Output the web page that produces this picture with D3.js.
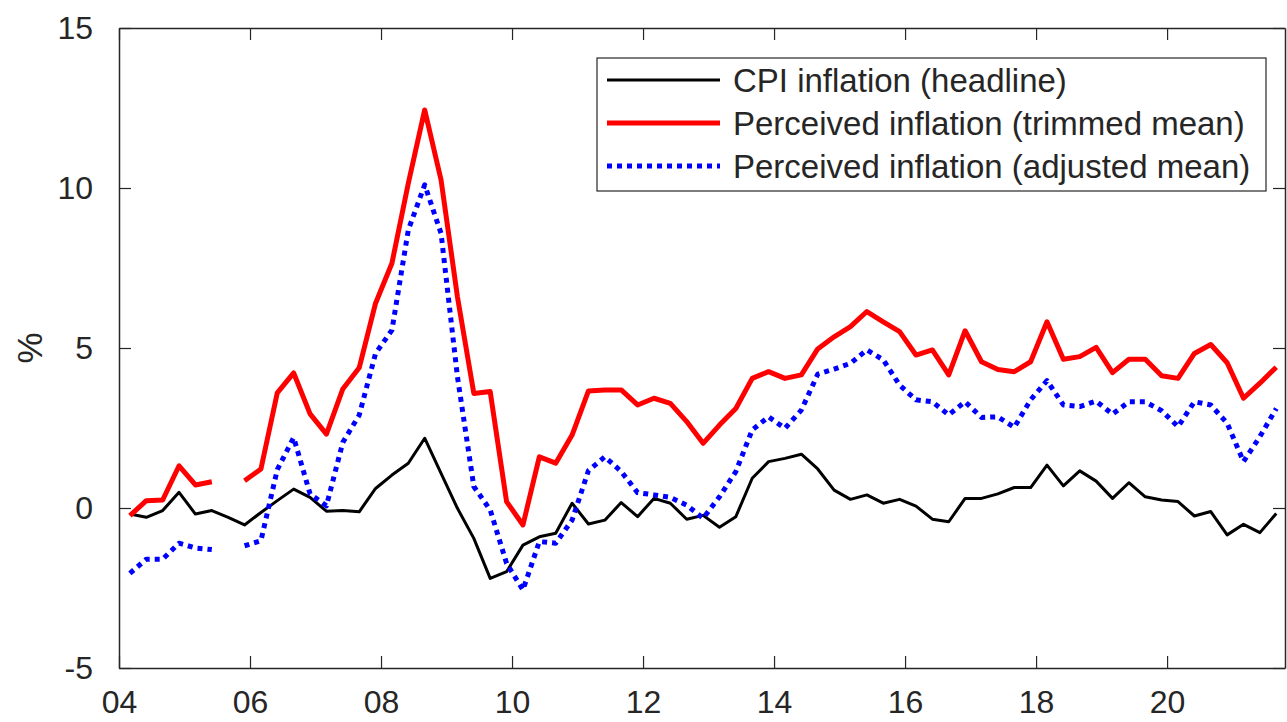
<!DOCTYPE html>
<html>
<head>
<meta charset="utf-8">
<script src="https://cdn.jsdelivr.net/npm/d3@7"></script>
<style>
  body { margin: 0; background: #fff; }
  svg { display: block; font-family: "Liberation Sans", Arial, sans-serif; }
</style>
</head>
<body>
<div id="chart"></div>
<script>
// quarterly observations, Mar 2004 .. Sep 2021
const startYear = 2004 + 2 / 12;
const nObs = 71;

const cpi = [-0.19, -0.29, -0.08, 0.49, -0.19, -0.08, -0.29, -0.53, -0.14, 0.23,
    0.59, 0.33, -0.10, -0.08, -0.12, 0.61, 1.03, 1.40, 2.18, 1.08,
    -0.01, -0.95, -2.20, -1.99, -1.16, -0.90, -0.79, 0.15, -0.50, -0.38,
    0.17, -0.27, 0.30, 0.15, -0.35, -0.23, -0.60, -0.27, 0.93, 1.45,
    1.55, 1.68, 1.22, 0.56, 0.27, 0.41, 0.15, 0.27, 0.06, -0.35,
    -0.43, 0.30, 0.30, 0.44, 0.64, 0.64, 1.34, 0.69, 1.16, 0.84,
    0.30, 0.79, 0.35, 0.25, 0.20, -0.25, -0.11, -0.84, -0.51, -0.77, -0.17];

const trimmed = [-0.24, 0.23, 0.25, 1.32, 0.72, 0.82, null, 0.85, 1.22, 3.60,
    4.22, 2.94, 2.31, 3.72, 4.38, 6.40, 7.65, 10.15, 12.44, 10.25,
    6.60, 3.58, 3.64, 0.20, -0.53, 1.60, 1.40, 2.28, 3.66, 3.69,
    3.69, 3.22, 3.43, 3.27, 2.70, 2.02, 2.59, 3.11, 4.05, 4.26,
    4.05, 4.16, 4.97, 5.35, 5.67, 6.14, 5.82, 5.51, 4.78, 4.94,
    4.16, 5.54, 4.57, 4.33, 4.26, 4.57, 5.82, 4.65, 4.73, 5.02,
    4.23, 4.65, 4.65, 4.13, 4.05, 4.83, 5.11, 4.54, 3.43, 3.90, 4.40];

const adjusted = [-2.04, -1.60, -1.60, -1.10, -1.25, -1.30, null, -1.18, -1.02, 1.20,
    2.20, 0.44, 0.07, 2.05, 2.90, 4.83, 5.56, 8.69, 10.10, 8.58,
    4.10, 0.67, -0.06, -1.73, -2.56, -1.05, -1.10, -0.38, 1.17, 1.60,
    1.14, 0.48, 0.41, 0.33, 0.09, -0.32, 0.35, 1.14, 2.44, 2.85,
    2.49, 3.06, 4.18, 4.34, 4.52, 4.94, 4.63, 3.84, 3.38, 3.32,
    2.91, 3.32, 2.83, 2.85, 2.52, 3.38, 3.98, 3.22, 3.17, 3.34,
    2.93, 3.32, 3.32, 3.04, 2.54, 3.32, 3.22, 2.65, 1.45, 2.23, 3.11];

const xTicks = [2004, 2006, 2008, 2010, 2012, 2014, 2016, 2018, 2020];
const yTicks = [-5, 0, 5, 10, 15];

const seriesNames = ['CPI inflation (headline)', 'Perceived inflation (trimmed mean)', 'Perceived inflation (adjusted mean)'];

const dates = d3.range(nObs).map(i => startYear + i * 0.25);

const width = 1287, height = 722;
const margin = {left: 119, right: 2, top: 28, bottom: 54};
const axisColor = '#262626';

const svg = d3.select('#chart').append('svg')
    .attr('width', width)
    .attr('height', height);

const x = d3.scaleLinear()
    .domain([2004, 2021.8])
    .range([margin.left, width - margin.right]);

const y = d3.scaleLinear()
    .domain([-5, 15])
    .range([height - margin.bottom, margin.top]);

const line = d3.line()
    .defined(d => d[1] != null)
    .x(d => x(d[0]))
    .y(d => y(d[1]));

const styles = [
    {data: cpi, color: '#000000', w: 3, dash: null},
    {data: trimmed, color: '#ff0000', w: 5, dash: null},
    {data: adjusted, color: '#0000ff', w: 5, dash: '5,5'}
];

styles.forEach(s => {
    svg.append('path')
        .datum(dates.map((d, i) => [d, s.data[i]]))
        .attr('d', line)
        .attr('fill', 'none')
        .attr('stroke', s.color)
        .attr('stroke-width', s.w)
        .attr('stroke-linejoin', 'round')
        .attr('stroke-dasharray', s.dash);
});

// axes box with inward ticks on all sides
const tickLen = 12;
const x0 = x.range()[0], x1 = x.range()[1];
const y0 = y.range()[0], y1 = y.range()[1];

const bottomAxis = svg.append('g')
    .attr('transform', `translate(0, ${y0})`)
    .call(d3.axisBottom(x).tickValues(xTicks).tickSizeInner(-tickLen).tickSizeOuter(0)
        .tickPadding(22).tickFormat(d => d3.format('02d')(d % 100)));
const topAxis = svg.append('g')
    .attr('transform', `translate(0, ${y1})`)
    .call(d3.axisTop(x).tickValues(xTicks).tickSizeInner(-tickLen).tickSizeOuter(0).tickFormat(''));
const leftAxis = svg.append('g')
    .attr('transform', `translate(${x0}, 0)`)
    .call(d3.axisLeft(y).tickValues(yTicks).tickSizeInner(-tickLen).tickSizeOuter(0)
        .tickPadding(26).tickFormat(d => String(d)));
const rightAxis = svg.append('g')
    .attr('transform', `translate(${x1}, 0)`)
    .call(d3.axisRight(y).tickValues(yTicks).tickSizeInner(-tickLen).tickSizeOuter(0).tickFormat(''));

[bottomAxis, topAxis, leftAxis, rightAxis].forEach(g => {
    g.select('.domain').attr('stroke', axisColor).attr('stroke-width', 1.5);
    g.selectAll('.tick line').attr('stroke', axisColor).attr('stroke-width', 1.2);
    g.selectAll('.tick text')
        .attr('fill', axisColor)
        .style('font-size', '32px')
        .style('font-family', '"Liberation Sans", Arial, sans-serif');
});

svg.append('text')
    .attr('transform', `translate(42, ${y(5)}) rotate(-90)`)
    .attr('text-anchor', 'middle')
    .attr('fill', axisColor)
    .style('font-size', '35px')
    .text('%');

// legend
const legend = svg.append('g').attr('transform', 'translate(597, 58)');
legend.append('rect')
    .attr('width', 669)
    .attr('height', 133)
    .attr('fill', '#fff')
    .attr('stroke', axisColor)
    .attr('stroke-width', 1.2);

seriesNames.forEach((name, i) => {
    const row = legend.append('g').attr('transform', `translate(0, ${22 + i * 43})`);
    row.append('line')
        .attr('x1', 10).attr('x2', 123)
        .attr('stroke', styles[i].color)
        .attr('stroke-width', styles[i].w)
        .attr('stroke-dasharray', styles[i].dash);
    row.append('text')
        .attr('x', 136)
        .attr('dy', '0.35em')
        .attr('fill', axisColor)
        .style('font-size', '33px')
        .text(name);
});
</script>
</body>
</html>
